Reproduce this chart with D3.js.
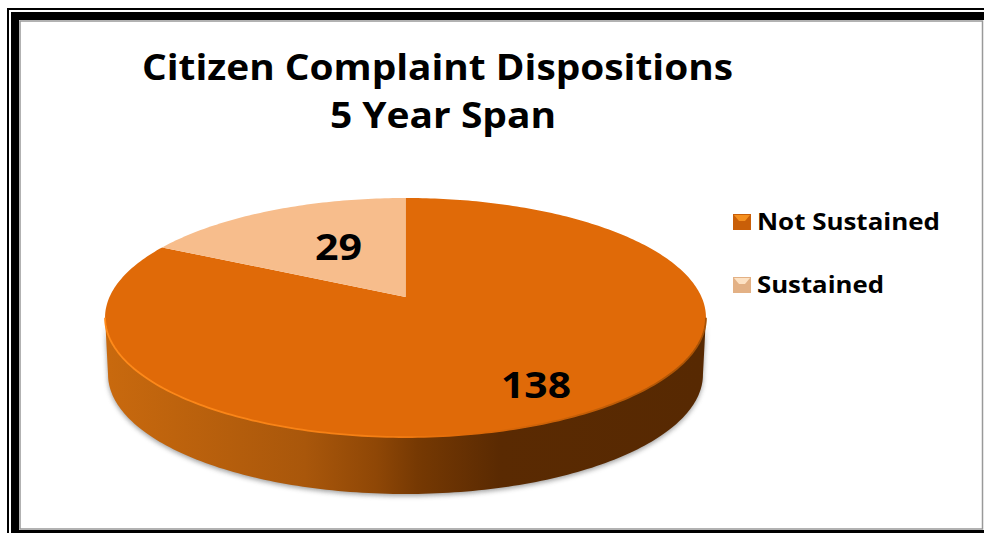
<!DOCTYPE html>
<html>
<head>
<meta charset="utf-8">
<style>
html, body { margin: 0; padding: 0; background: #fff; overflow: hidden; }
svg { display: block; }
text { font-family: "Open Sans", sans-serif; font-weight: 700; fill: #000; }
</style>
</head>
<body>
<svg width="984" height="533"></svg>
<script src="https://d3js.org/d3.v7.min.js"></script>
<script>

var categories = ["Not Sustained", "Sustained"];
var values = [138, 29];
var titleLines = ["Citizen Complaint Dispositions", "5 Year Span"];

var topColors = ["#e06a08", "#f7bd8c"];
var sideStops = [
  [0, "#c8690e"], [0.33, "#a9570b"], [0.45, "#8f4706"],
  [0.52, "#763903"], [0.66, "#5a2a02"], [1, "#572902"]
];

var svg = d3.select("svg");
var defs = svg.append("defs");

// frame: thin line, white gap, thick line, gray inner edge
svg.append("rect").attr("x", 8).attr("y", 9).attr("width", 990).attr("height", 540)
  .attr("fill", "none").attr("stroke", "#000").attr("stroke-width", 2);
svg.append("rect").attr("x", 15).attr("y", 16).attr("width", 980).attr("height", 518)
  .attr("fill", "none").attr("stroke", "#000").attr("stroke-width", 8);
svg.append("rect").attr("x", 20).attr("y", 21).attr("width", 962.5).attr("height", 508)
  .attr("fill", "#fff").attr("stroke", "#999").attr("stroke-width", 1.5);

// title
var titleWidths = [591, 226];
svg.append("g").selectAll("text").data(titleLines).join("text")
  .attr("x", function(d, i) { return i ? 443 : 437.5; })
  .attr("y", function(d, i) { return 80 + i * 48; })
  .attr("text-anchor", "middle")
  .attr("font-size", 36)
  .attr("textLength", function(d, i) { return titleWidths[i]; })
  .attr("lengthAdjust", "spacingAndGlyphs")
  .text(function(d) { return d; });

// the disc is tilted and seen in perspective, so the pie centre sits above the middle of the ellipse
var cx = 405.5, cy = 297, bx = 296, by = 116, k = -0.1715, depth = 57;
function project(a) {
  var u = Math.sin(a), v = -Math.cos(a), w = 1 + k * v;
  return [cx + bx * u / w, cy + by * v / w];
}

var pie = d3.pie().sort(null).startAngle(0);
var arcs = pie(values);
var line = d3.line();

function wedge(d) {
  var n = Math.max(2, Math.ceil((d.endAngle - d.startAngle) * 60));
  var pts = d3.range(n + 1).map(function(i) {
    return project(d.startAngle + (d.endAngle - d.startAngle) * i / n);
  });
  return line([[cx, cy]].concat(pts)) + "Z";
}

// side wall: the front half of the rim, pushed down by the depth
var grad = defs.append("linearGradient").attr("id", "side")
  .attr("gradientUnits", "userSpaceOnUse")
  .attr("x1", cx - bx).attr("x2", cx + bx).attr("y1", 0).attr("y2", 0);
grad.selectAll("stop").data(sideStops).join("stop")
  .attr("offset", function(d) { return d[0]; })
  .attr("stop-color", function(d) { return d[1]; });

var bevel = defs.append("linearGradient").attr("id", "bevel")
  .attr("gradientUnits", "userSpaceOnUse")
  .attr("x1", cx - bx).attr("x2", cx + bx).attr("y1", 0).attr("y2", 0);
bevel.append("stop").attr("offset", 0).attr("stop-color", "#ff8a1a");
bevel.append("stop").attr("offset", 0.45).attr("stop-color", "#f57f14");
bevel.append("stop").attr("offset", 0.6).attr("stop-color", "#e06a08");
bevel.append("stop").attr("offset", 1).attr("stop-color", "#a85205");

defs.append("filter").attr("id", "soft")
  .attr("x", "-5%").attr("y", "-5%").attr("width", "110%").attr("height", "115%")
  .append("feGaussianBlur").attr("stdDeviation", 2.5);

var rimTop = d3.range(0, 361).map(function(i) { return project(Math.PI * 2 * i / 360); });
var rimBottom = rimTop.map(function(p) { return [cx + (p[0] - cx) * 0.99, p[1] + depth]; });
var leftIdx = d3.leastIndex(rimTop, function(a, b) { return a[0] - b[0]; });
var rightIdx = d3.leastIndex(rimTop, function(a, b) { return b[0] - a[0]; });
var front = rimTop.slice(rightIdx, leftIdx + 1);
var frontLow = rimBottom.slice(rightIdx, leftIdx + 1).reverse();
var sidePath = line(front.concat(frontLow)) + "Z";

// soft shadow just outside the wall
svg.append("path").attr("d", sidePath).attr("fill", "#777").attr("opacity", 0.7)
  .attr("filter", "url(#soft)").attr("transform", "translate(0,2)");
svg.append("path").attr("d", sidePath).attr("fill", "url(#side)");

// top face
svg.append("g").selectAll("path").data(arcs).join("path")
  .attr("d", wedge)
  .attr("fill", function(d, i) { return topColors[i]; });

// bright bevel along the front rim
svg.append("path").attr("d", line(front)).attr("fill", "none")
  .attr("stroke", "url(#bevel)").attr("stroke-width", 1.8);

// slice labels
var labelPos = [[536, 398], [338.5, 260]];
var labelWidths = [70, 47];
svg.append("g").selectAll("text").data(values).join("text")
  .attr("x", function(d, i) { return labelPos[i][0]; })
  .attr("y", function(d, i) { return labelPos[i][1]; })
  .attr("text-anchor", "middle")
  .attr("font-size", 36)
  .attr("textLength", function(d, i) { return labelWidths[i]; })
  .attr("lengthAdjust", "spacingAndGlyphs")
  .text(function(d) { return d; });

// legend
var legendWidths = [183, 127];
var legendY = d3.scalePoint().domain(categories).range([222, 285]);
var legend = svg.append("g").selectAll("g").data(categories).join("g")
  .attr("transform", function(d) { return "translate(733," + legendY(d) + ")"; });
legend.append("rect")
  .attr("y", -8).attr("width", 18).attr("height", 16)
  .attr("fill", function(d, i) { return i ? "#e3b185" : "#c95f08"; });
legend.append("path")
  .attr("d", "M1,-7L17,-7L12,-1L6,-1Z")
  .attr("fill", function(d, i) { return i ? "#fde2c4" : "#f5901f"; });
legend.append("text")
  .attr("x", 24).attr("y", 8)
  .attr("font-size", 24)
  .attr("textLength", function(d, i) { return legendWidths[i]; })
  .attr("lengthAdjust", "spacingAndGlyphs")
  .text(function(d) { return d; });

</script>
</body>
</html>
